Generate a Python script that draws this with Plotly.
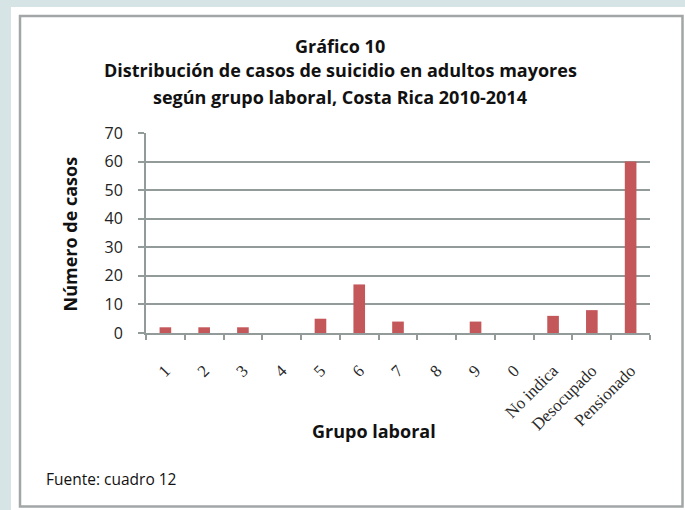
import plotly.graph_objects as go

categorias = ["1", "2", "3", "4", "5", "6", "7", "8", "9", "0", "No indica", "Desocupado", "Pensionado"]
casos = [2, 2, 2, 0, 5, 17, 4, 0, 4, 0, 6, 8, 60]

W, H = 685, 510
L, R, T, B = 146, 650, 133, 333  # plot area in pixels


def px(x):
    return (x - L) / (R - L)


def py(y):
    return (B - y) / (B - T)


fig = go.Figure(go.Bar(
    x=categorias, y=casos,
    marker=dict(color="#C4575A", line=dict(width=0)),
    width=0.3,
))

grid = "#929a9a"
fig.update_layout(
    width=W, height=H,
    margin=dict(l=L, r=W - R, t=T, b=H - B),
    paper_bgcolor="#D7E4E6",
    plot_bgcolor="white",
    showlegend=False,
    font=dict(family="Open Sans", color="#111111"),
    xaxis=dict(
        type="category",
        tickson="boundaries",
        ticks="outside", ticklen=5, tickcolor=grid, tickwidth=2,
        showline=True, linecolor=grid, linewidth=2,
        showgrid=False,
        tickangle=-45,
        ticklabelstandoff=19,
        tickfont=dict(family="Liberation Serif", size=17, color="#2a2a2a"),
        range=[-0.5, 12.5],
    ),
    yaxis=dict(
        range=[0, 70], dtick=10,
        showgrid=True, gridcolor=grid, gridwidth=2,
        showline=True, linecolor=grid, linewidth=2,
        ticks="outside", ticklen=6, tickcolor=grid, tickwidth=2,
        ticklabelstandoff=12,
        zeroline=False,
        tickfont=dict(family="Open Sans", size=16, color="#222222"),
    ),
    shapes=[
        dict(type="rect", xref="paper", yref="paper", layer="below",
             x0=px(11), x1=px(700), y0=py(520), y1=py(7),
             fillcolor="white", line=dict(width=0)),
        dict(type="rect", xref="paper", yref="paper", layer="below",
             x0=px(20), x1=px(682.5), y0=py(506.5), y1=py(16),
             fillcolor="white", line=dict(color="#a3a6a6", width=2.5)),
    ],
)

titulo = [("Gráfico 10", 46.5),
          ("Distribución de casos de suicidio en adultos mayores", 70),
          ("según grupo laboral, Costa Rica 2010-2014", 97)]
for t, yc in titulo:
    fig.add_annotation(text="<b>" + t + "</b>", xref="paper", yref="paper",
                       x=px(340), y=py(yc), showarrow=False,
                       xanchor="center", yanchor="middle",
                       font=dict(family="Open Sans", size=18, color="#111111"))

fig.add_annotation(text="<b>Número de casos</b>", xref="paper", yref="paper",
                   x=px(69.5), y=py(234), showarrow=False, textangle=-90,
                   xanchor="center", yanchor="middle",
                   font=dict(family="Open Sans", size=18, color="#111111"))

fig.add_annotation(text="<b>Grupo laboral</b>", xref="paper", yref="paper",
                   x=px(374), y=py(431), showarrow=False,
                   xanchor="center", yanchor="middle",
                   font=dict(family="Open Sans", size=18, color="#111111"))

fig.add_annotation(text="Fuente: cuadro 12", xref="paper", yref="paper",
                   x=px(44), y=py(479), showarrow=False,
                   xanchor="left", yanchor="middle",
                   font=dict(family="Open Sans", size=15.5, color="#111111"))

fig.write_html("out.html",
               config={"displayModeBar": False},
               post_script="document.body.style.margin='0px';"
                           "document.body.style.overflow='hidden';"
                           "document.body.style.background='#D7E4E6';")
